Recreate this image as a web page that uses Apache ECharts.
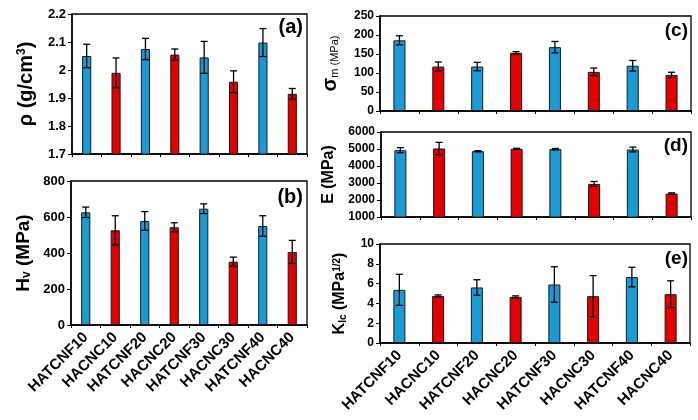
<!DOCTYPE html>
<html><head><meta charset="utf-8">
<script src="https://cdn.jsdelivr.net/npm/echarts@6/dist/echarts.min.js"></script>
<style>html,body{margin:0;padding:0;background:#fff}#c{width:698px;height:420px}</style>
</head><body><div id="c"></div>
<script>
const categories = ['HATCNF10','HACNC10','HATCNF20','HACNC20','HATCNF30','HACNC30','HATCNF40','HACNC40'];
const densityVals = [2.05, 1.99, 2.075, 2.055, 2.045, 1.958, 2.098, 1.915];
const densityErr  = [0.042, 0.053, 0.038, 0.02, 0.057, 0.039, 0.05, 0.019];
const hvVals = [626, 526, 578, 543, 646, 352, 550, 406];
const hvErr  = [29, 81, 52, 25, 27, 25, 57, 64];
const sigmaVals = [186, 117, 117, 153, 168, 103, 119, 95];
const sigmaErr  = [12, 12, 11, 3, 15, 10, 14, 7];
const eVals = [4930, 5030, 4870, 5010, 4990, 2945, 4970, 2380];
const eErr  = [150, 360, 30, 30, 40, 145, 140, 40];
const kVals = [5.37, 4.76, 5.61, 4.66, 5.91, 4.73, 6.66, 4.93];
const kErr  = [1.57, 0.1, 0.78, 0.1, 1.79, 2.08, 0.99, 1.35];

const FONT = '"Liberation Sans", Arial, sans-serif';
const BLUE = '#1c9ad6', RED = '#e20000';

const panels = [
  {vals: densityVals, err: densityErr, min: 1.7, max: 2.2, interval: 0.1, grid: {left: 72, top: 14, width: 235, height: 140}, labels: false, tickFont: 13, plain: false,
   name: '{n|ρ (g/cm}{sup|3}{n|)}', nameGap: 36, rich: {n: {fontSize: 20, fontWeight: 'bold', fontFamily: FONT}, sup: {fontSize: 12, fontWeight: 'bold', fontFamily: FONT, verticalAlign: 'top'}}},
  {vals: hvVals, err: hvErr, min: 0, max: 800, interval: 200, grid: {left: 71, top: 181, width: 236, height: 144}, labels: true, tickFont: 13, plain: false,
   name: '{n|H}{sub|v}{n| (MPa)}', nameGap: 38, rich: {n: {fontSize: 19, fontWeight: 'bold', fontFamily: FONT}, sub: {fontSize: 12, fontWeight: 'bold', fontFamily: FONT, verticalAlign: 'bottom'}}},
  {vals: sigmaVals, err: sigmaErr, min: 0, max: 250, interval: 50, grid: {left: 380, top: 16, width: 311, height: 95}, labels: false, tickFont: 12, plain: false,
   name: '{n|σ}{sub|m (MPa)}', nameGap: 40, rich: {n: {fontSize: 20, fontWeight: 'bold', fontFamily: FONT}, sub: {fontSize: 11, fontFamily: FONT, verticalAlign: 'bottom'}}},
  {vals: eVals, err: eErr, min: 1000, max: 6000, interval: 1000, grid: {left: 381, top: 132, width: 310, height: 85}, labels: false, tickFont: 12, plain: true,
   name: '{n|E (MPa)}', nameGap: 44, rich: {n: {fontSize: 16, fontWeight: 'bold', fontFamily: FONT}}},
  {vals: kVals, err: kErr, min: 0, max: 10, interval: 2, grid: {left: 380, top: 244, width: 310, height: 99}, labels: true, tickFont: 12, plain: false,
   name: '{n|K}{sub|Ic}{n| (MPa}{sup|1/2}{n|)}', nameGap: 32, rich: {n: {fontSize: 16, fontWeight: 'bold', fontFamily: FONT}, sub: {fontSize: 10, fontWeight: 'bold', fontFamily: FONT, verticalAlign: 'bottom'}, sup: {fontSize: 10, fontWeight: 'bold', fontFamily: FONT, verticalAlign: 'top'}}}
];
const panelTags = ['(a)', '(b)', '(c)', '(d)', '(e)'];
const tagPos = [[303, 27, 20], [303, 197, 20], [688, 31, 19], [688, 146, 19], [688, 259, 19]];

const grids = [], xAxes = [], yAxes = [], series = [];
panels.forEach((p, k) => {
  grids.push(Object.assign({show: true, borderColor: '#000', borderWidth: 1.3, backgroundColor: 'transparent'}, p.grid));
  xAxes.push({
    type: 'category', gridIndex: k, data: categories,
    axisLine: {show: true, lineStyle: {color: '#000', width: 1.5}},
    axisTick: {show: true, length: 3, lineStyle: {color: '#000'}},
    axisLabel: {show: p.labels, rotate: 45, interval: 0, margin: 10, color: '#000', fontSize: 15, fontWeight: 'bold', fontFamily: FONT}
  });
  const yl = {color: '#000', fontSize: p.tickFont, fontWeight: 'bold', fontFamily: FONT, margin: 6};
  if (p.plain) yl.formatter = function (v) { return String(v); };
  yAxes.push({
    type: 'value', gridIndex: k, min: p.min, max: p.max, interval: p.interval,
    name: p.name, nameLocation: 'middle', nameGap: p.nameGap,
    nameTextStyle: {color: '#000', rich: p.rich},
    axisLine: {show: true, lineStyle: {color: '#000', width: 1.5}},
    axisTick: {show: true, length: 4, lineStyle: {color: '#000'}},
    splitLine: {show: false},
    axisLabel: yl
  });
  series.push({
    type: 'bar', xAxisIndex: k, yAxisIndex: k, barWidth: '31%', clip: true,
    data: p.vals.map((v, i) => ({value: v, itemStyle: {color: i % 2 === 0 ? BLUE : RED}})),
    itemStyle: {borderColor: '#1a1a1a', borderWidth: 1},
    animation: false
  });
  series.push({
    type: 'custom', xAxisIndex: k, yAxisIndex: k, z: 10, animation: false,
    data: p.vals.map((v, i) => [i, v, p.err[i]]),
    encode: {x: 0, y: 1},
    renderItem: function (params, api) {
      const i = api.value(0), v = api.value(1), e = api.value(2);
      const t = api.coord([i, v + e]);
      const b = api.coord([i, v - e]);
      const x = t[0], w = 3.5;
      const st = {stroke: '#000', lineWidth: 1.3};
      return {type: 'group', children: [
        {type: 'line', shape: {x1: x, y1: t[1], x2: x, y2: b[1]}, style: st},
        {type: 'line', shape: {x1: x - w, y1: t[1], x2: x + w, y2: t[1]}, style: st},
        {type: 'line', shape: {x1: x - w, y1: b[1], x2: x + w, y2: b[1]}, style: st}
      ]};
    }
  });
});

const chart = echarts.init(document.getElementById('c'), null, {renderer: 'canvas', width: 698, height: 420});
chart.setOption({
  backgroundColor: '#fff',
  animation: false,
  grid: grids, xAxis: xAxes, yAxis: yAxes, series: series,
  graphic: panelTags.map((t, k) => ({
    type: 'text', z: 100,
    style: {text: t, x: tagPos[k][0], y: tagPos[k][1], textAlign: 'right', textVerticalAlign: 'middle',
            font: 'bold ' + tagPos[k][2] + 'px ' + FONT, fill: '#000'}
  }))
});
</script></body></html>
